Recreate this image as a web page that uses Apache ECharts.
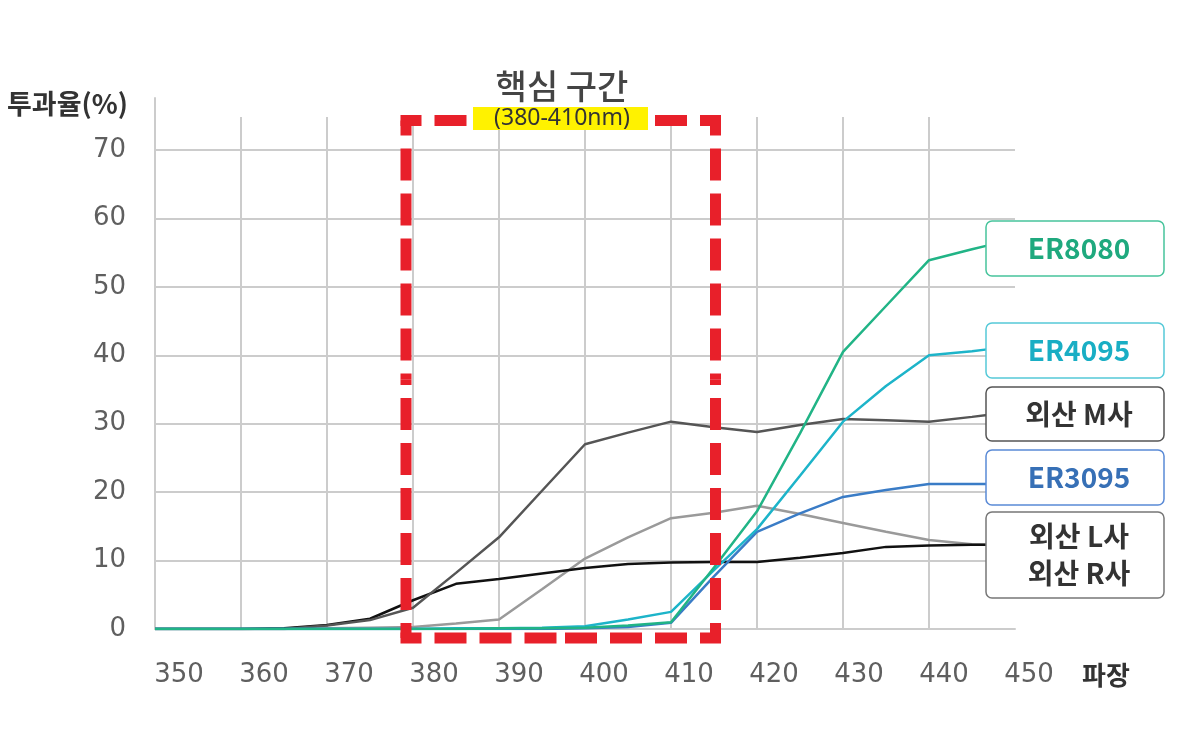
<!DOCTYPE html>
<html>
<head>
<meta charset="utf-8">
<script src="https://cdn.jsdelivr.net/npm/echarts@6/dist/echarts.min.js"></script>
<style>
  html, body { margin: 0; padding: 0; background: #fff; }
  #chart { width: 1200px; height: 729px; }
</style>
</head>
<body>
<div id="chart"></div>
<script>
// wavelength (nm) and transmittance (%)
const wavelengths = [350, 355, 360, 365, 370, 375, 380, 385, 390, 395, 400, 405, 410, 415, 420, 425, 430, 435, 440, 445, 447];
const er8080 = [0, 0, 0, 0, 0, 0, 0, 0, 0.1, 0.1, 0.2, 0.5, 1.0, 9.0, 17.2, 28.6, 40.5, 47.2, 53.9, 55.5, 56.1];
const er4095 = [0, 0, 0, 0, 0, 0, 0, 0.1, 0.1, 0.2, 0.4, 1.4, 2.5, 8.6, 14.6, 22.4, 30.3, 35.5, 40.0, 40.6, 40.9];
const er3095 = [0, 0, 0, 0, 0, 0, 0, 0, 0, 0, 0.1, 0.3, 0.9, 7.7, 14.2, 16.9, 19.3, 20.3, 21.2, 21.2, 21.2];
const makerM = [0, 0, 0, 0, 0.5, 1.3, 3.1, 8.2, 13.4, 20.2, 27.0, 28.7, 30.3, 29.5, 28.8, 29.8, 30.7, 30.5, 30.3, 31.0, 31.3];
const makerL = [0, 0, 0, 0.1, 0.6, 1.5, 4.2, 6.6, 7.3, 8.1, 8.9, 9.5, 9.7, 9.8, 9.8, 10.4, 11.1, 12.0, 12.2, 12.3, 12.3];
const makerR = [0, 0, 0, 0, 0.1, 0.2, 0.3, 0.8, 1.4, 5.8, 10.3, 13.4, 16.2, 17.0, 18.0, 16.8, 15.5, 14.2, 13.0, 12.4, 12.3];

const FONT = '"Noto Sans CJK KR", "Noto Sans", sans-serif';
const NUM_FONT = '"DejaVu Sans", sans-serif';
const GRID_COLOR = '#cccccc';

function pairs(values) {
  return wavelengths.map((w, i) => [w, values[i]]);
}

function lineSeries(name, values, color) {
  return {
    name: name,
    type: 'line',
    xAxisIndex: 0,
    yAxisIndex: 0,
    data: pairs(values),
    symbol: 'none',
    silent: true,
    lineStyle: { color: color, width: 2.5 },
    z: 3
  };
}

// red dashed box, drawn as halves from each corner so every corner gets an L
function dashedBox(x1, y1, x2, y2, w) {
  const style = { stroke: '#e8202a', lineWidth: w, lineDash: [32, 13] };
  const mx = (x1 + x2) / 2, my = (y1 + y2) / 2, h = w / 2;
  const segs = [
    [x1 - h, y1, mx, y1, 11], [x2 + h, y1, mx, y1, 11],
    [x1 - h, y2, mx, y2, 11], [x2 + h, y2, mx, y2, 11],
    [x1, y1, x1, my, 17], [x1, y2, x1, my, 17],
    [x2, y1, x2, my, 17], [x2, y2, x2, my, 17]
  ];
  return segs.map(s => ({
    type: 'line',
    z: 10,
    shape: { x1: s[0], y1: s[1], x2: s[2], y2: s[3] },
    style: Object.assign({}, style, { lineDashOffset: s[4] })
  }));
}

function tagBox(y, h, border, text, color) {
  return [
    {
      type: 'rect', z: 20,
      shape: { x: 986, y: y, width: 178, height: h, r: 6 },
      style: { fill: '#fff', stroke: border, lineWidth: 1.5 }
    },
    {
      type: 'text', z: 21,
      x: 1079, y: y + h / 2,
      style: {
        text: text, fill: color, font: 'bold 28px ' + FONT,
        align: 'center', verticalAlign: 'middle', lineHeight: 37
      }
    }
  ];
}

const chart = echarts.init(document.getElementById('chart'));

const option = {
  backgroundColor: '#fff',
  animation: false,
  grid: [
    { left: 155, right: 185, top: 150, bottom: 100 },   // data + horizontal lines
    { left: 155, right: 185, top: 117, bottom: 100 },   // vertical lines
    { left: 155, right: 185, top: 98, bottom: 100 },    // left axis line
    { left: 179, right: 171, top: 600, bottom: 54 }     // wavelength labels
  ],
  xAxis: [
    {
      gridIndex: 0, type: 'value', min: 350, max: 450, interval: 10,
      axisLine: { show: true, lineStyle: { color: GRID_COLOR, width: 2 } },
      axisTick: { show: false }, axisLabel: { show: false }, splitLine: { show: false }
    },
    {
      gridIndex: 1, type: 'value', min: 350, max: 450, interval: 10,
      axisLine: { show: false }, axisTick: { show: false }, axisLabel: { show: false },
      splitLine: { show: true, showMaxLine: false, lineStyle: { color: GRID_COLOR, width: 2 } }
    },
    { gridIndex: 2, type: 'value', min: 350, max: 450, show: false },
    {
      gridIndex: 3, type: 'value', min: 350, max: 450, interval: 10,
      axisLine: { show: false }, axisTick: { show: false }, splitLine: { show: false },
      axisLabel: {
        margin: 0, verticalAlign: 'middle', color: '#5f5f5f',
        fontFamily: NUM_FONT, fontSize: 26
      },
      name: '파장', nameLocation: 'end', nameGap: 53,
      nameTextStyle: { color: '#333', fontFamily: FONT, fontWeight: 'bold', fontSize: 26, verticalAlign: 'middle' }
    }
  ],
  yAxis: [
    {
      gridIndex: 0, type: 'value', min: 0, max: 70, interval: 10,
      axisLine: { show: false }, axisTick: { show: false },
      axisLabel: { margin: 29, color: '#5f5f5f', fontFamily: NUM_FONT, fontSize: 26 },
      splitLine: { show: true, lineStyle: { color: GRID_COLOR, width: 2 } }
    },
    { gridIndex: 1, type: 'value', min: 0, max: 75, show: false },
    {
      gridIndex: 2, type: 'value', min: 0, max: 80,
      axisLine: { show: true, lineStyle: { color: GRID_COLOR, width: 2 } },
      axisTick: { show: false }, axisLabel: { show: false }, splitLine: { show: false }
    },
    { gridIndex: 3, type: 'value', show: false }
  ],
  series: [
    lineSeries('외산 R사', makerR, '#9a9a9a'),
    lineSeries('외산 L사', makerL, '#111111'),
    lineSeries('외산 M사', makerM, '#555555'),
    lineSeries('ER3095', er3095, '#3a7cc6'),
    lineSeries('ER4095', er4095, '#1db4c9'),
    lineSeries('ER8080', er8080, '#21b486')
  ],
  graphic: [].concat(
    [
      {
        type: 'text', x: 7, y: 104,
        style: { text: '투과율(%)', fill: '#333', font: 'bold 27px ' + FONT, verticalAlign: 'middle' }
      },
      {
        type: 'text', x: 562, y: 86, z: 30,
        style: { text: '핵심 구간', fill: '#444', font: '500 34px ' + FONT, align: 'center', verticalAlign: 'middle' }
      }
    ],
    dashedBox(406, 120.5, 715.5, 638, 11),
    [
      {
        type: 'rect', z: 30,
        shape: { x: 473, y: 107, width: 175, height: 23 },
        style: { fill: '#fff200' }
      },
      {
        type: 'text', x: 562, y: 118.5, z: 31,
        style: { text: '(380-410nm)', fill: '#333', font: '23px "Noto Sans", sans-serif', align: 'center', verticalAlign: 'middle' }
      }
    ],
    tagBox(221, 55, '#47c49c', 'ER8080', '#1fa97e'),
    tagBox(323, 55, '#55c9d8', 'ER4095', '#19aec4'),
    tagBox(387, 54, '#555555', '외산 M사', '#333'),
    tagBox(450, 55, '#5a8ad6', 'ER3095', '#3770b6'),
    tagBox(512, 86, '#777777', '외산 L사\n외산 R사', '#333')
  )
};

chart.setOption(option);
</script>
</body>
</html>
